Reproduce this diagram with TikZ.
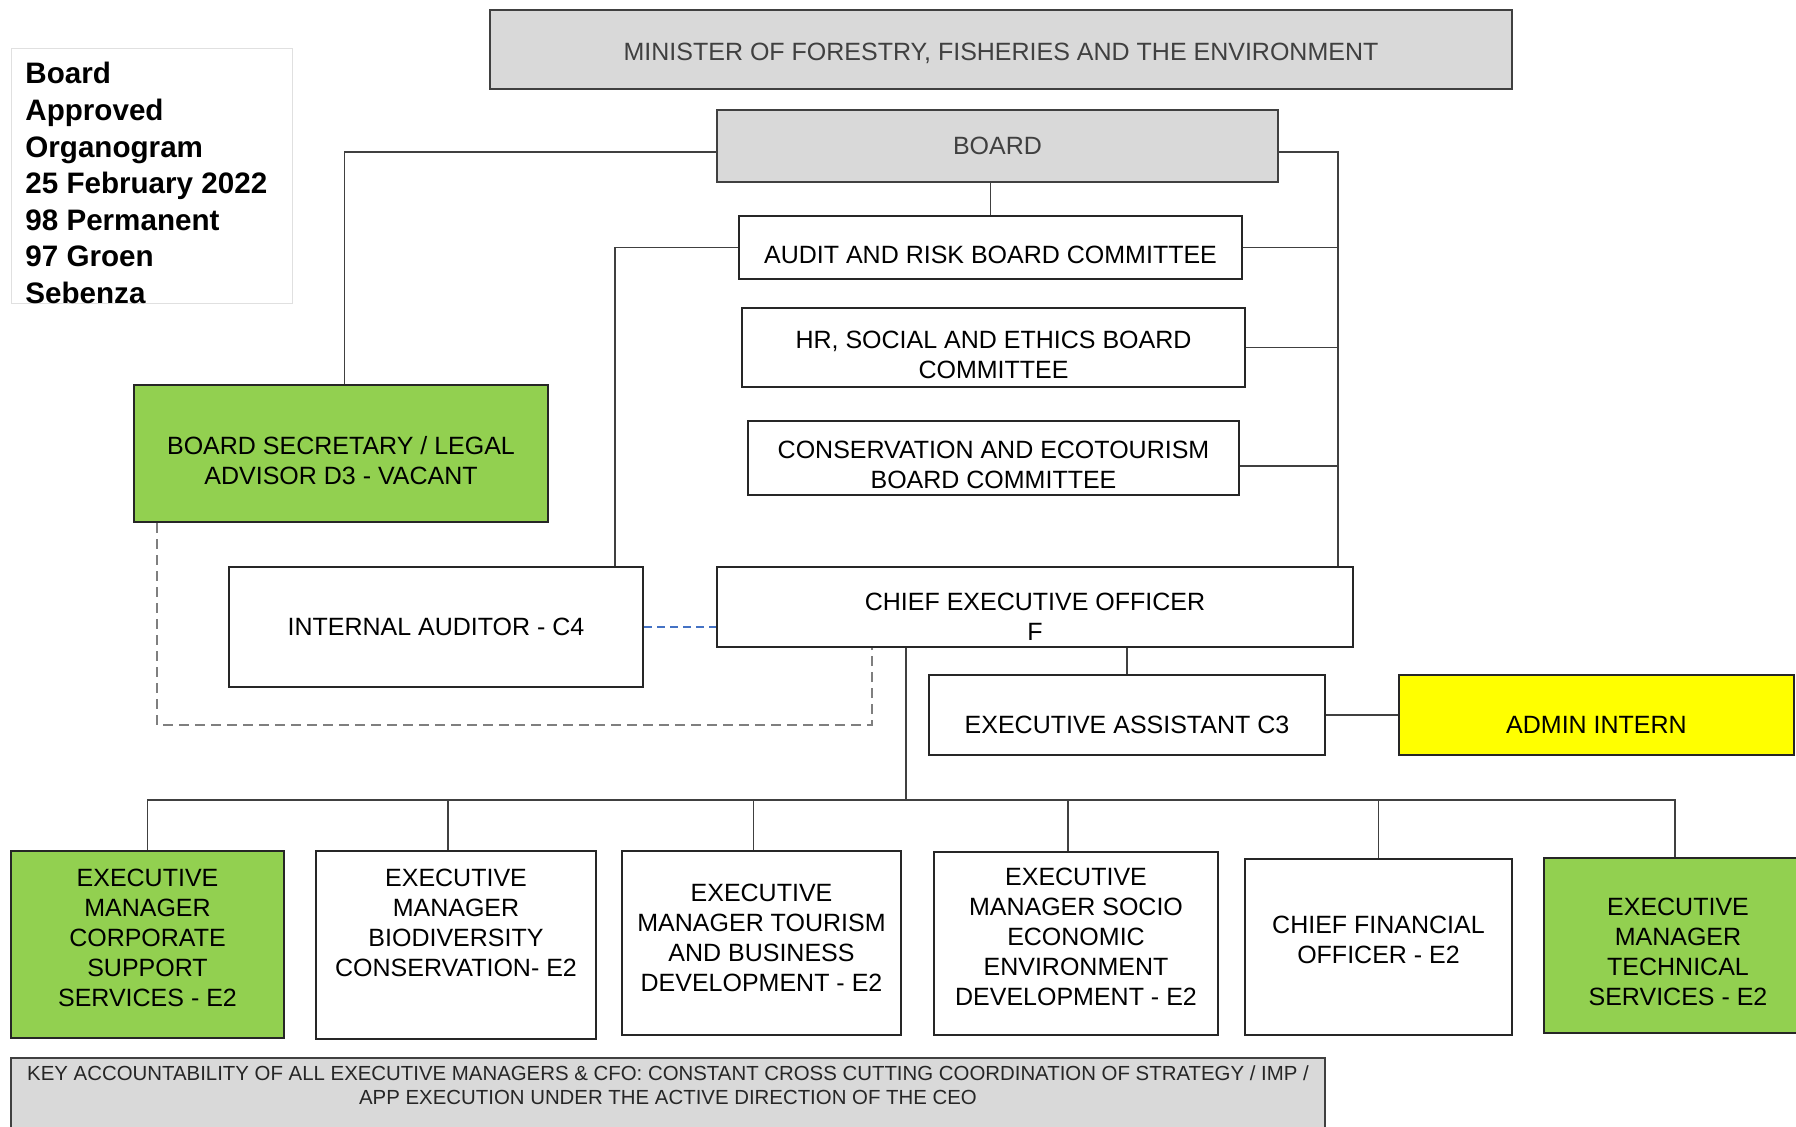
\documentclass[tikz,border=0pt]{standalone}
\usepackage{fontspec}
\setmainfont{Liberation Sans}
\usepackage{xcolor}
\usetikzlibrary{positioning,calc}
\definecolor{boxgray}{HTML}{D9D9D9}
\definecolor{boxgreen}{HTML}{92D050}
\definecolor{boxyellow}{HTML}{FFFF00}
\definecolor{linegray}{HTML}{404040}
\definecolor{dashgray}{HTML}{7F7F7F}
\definecolor{dashblue}{HTML}{4472C4}
% struts to push a box's text down (top) or up (bottom)
\newcommand\padtop[1]{\rule{0pt}{#1}}
\newcommand\padbot[1]{\rule[-#1]{0pt}{#1}}

\begin{document}
\begin{tikzpicture}[x=0.5pt,y=-0.5pt,
  box/.style={draw=black!85,line width=1pt,align=center,inner sep=2pt,font=\fontsize{12.5}{15}\selectfont},
  wbox/.style={box,fill=white},
  gbox/.style={box,draw=linegray,fill=boxgray,text=black!75},
  grnbox/.style={box,fill=boxgreen},
  ylwbox/.style={box,fill=boxyellow},
  conn/.style={draw=linegray,line width=0.75pt},
  dashg/.style={draw=dashgray,line width=1pt,dash pattern=on 5pt off 3pt},
  dashb/.style={draw=dashblue,line width=1pt,dash pattern=on 4pt off 2.5pt}]
\useasboundingbox (0,0) rectangle (1796,1126);
% legend
\draw[draw=black!12,line width=0.5pt] (11,48) rectangle (292,303);
\node[anchor=north west,align=left,inner sep=0pt,font=\fontsize{14.8}{18.3}\selectfont\bfseries] (legend) at (25,62)
  {Board\\Approved\\Organogram\\25 February 2022\\98 Permanent\\97 Groen\\Sebenza};
% board level
\node[gbox,minimum width=511pt,minimum height=39.5pt] (minister) at (1001,49.5) {\padtop{12.5pt}MINISTER OF FORESTRY, FISHERIES AND THE ENVIRONMENT};
\node[gbox,minimum width=280.5pt,minimum height=36pt] (board) at (997.5,146) {BOARD};
\node[wbox,minimum width=251.5pt,minimum height=31.5pt] (audit) at (990.5,247.5) {\padtop{16pt}AUDIT AND RISK BOARD COMMITTEE};
\node[wbox,minimum width=251.5pt,minimum height=39.5pt] (hrsoc) at (993.5,347.5) {\padtop{16pt}HR, SOCIAL AND ETHICS BOARD\\COMMITTEE};
\node[wbox,minimum width=245.5pt,minimum height=37pt] (conserv) at (993.5,458) {\padtop{16pt}CONSERVATION AND ECOTOURISM\\BOARD COMMITTEE};
\node[grnbox,minimum width=207pt,minimum height=68.5pt] (secretary) at (341,453.5) {\padtop{16pt}BOARD SECRETARY / LEGAL\\ADVISOR D3 - VACANT};
\node[wbox,minimum width=207pt,minimum height=60pt] (auditor) at (436,627) {INTERNAL AUDITOR - C4};
% office of the ceo
\node[wbox,minimum width=318pt,minimum height=40pt] (ceo) at (1035,607) {\padtop{18.3pt}CHIEF EXECUTIVE OFFICER\\F};
\node[wbox,minimum width=198pt,minimum height=40pt] (assistant) at (1127,715) {\padtop{18.3pt}EXECUTIVE ASSISTANT C3};
\node[ylwbox,minimum width=197.5pt,minimum height=40pt] (intern) at (1596.5,715) {\padtop{18.3pt}ADMIN INTERN};
% executive managers
\node[grnbox,minimum width=136.5pt,minimum height=93.5pt] (emcorp) at (147.5,944.5) {EXECUTIVE\\MANAGER\\CORPORATE\\SUPPORT\\SERVICES - E2\padbot{6.9pt}};
\node[wbox,minimum width=140pt,minimum height=94pt] (embio) at (456,945) {EXECUTIVE\\MANAGER\\BIODIVERSITY\\CONSERVATION- E2\padbot{21.8pt}};
\node[wbox,minimum width=139.5pt,minimum height=92pt] (emtour) at (761.5,943) {EXECUTIVE\\MANAGER TOURISM\\AND BUSINESS\\DEVELOPMENT - E2\padbot{5.7pt}};
\node[wbox,minimum width=142pt,minimum height=91.5pt] (emsocio) at (1076,943.5) {EXECUTIVE\\MANAGER SOCIO\\ECONOMIC\\ENVIRONMENT\\DEVELOPMENT - E2\padbot{6.9pt}};
\node[wbox,minimum width=133.5pt,minimum height=88pt] (cfo) at (1378.5,947) {CHIEF FINANCIAL\\OFFICER - E2\padbot{6.9pt}};
\node[grnbox,minimum width=134pt,minimum height=87.5pt] (emtech) at (1678,945.5) {\padtop{14.8pt}EXECUTIVE\\MANAGER\\TECHNICAL\\SERVICES - E2};
% key accountability
\draw[draw=linegray,line width=1pt,fill=boxgray] (11,1058) rectangle (1325,1160);
\node[font=\fontsize{10.2}{12}\selectfont,align=center,text=black!85] (key) at (668,1085)
  {KEY ACCOUNTABILITY OF ALL EXECUTIVE MANAGERS \& CFO: CONSTANT CROSS CUTTING COORDINATION OF STRATEGY / IMP /\\APP EXECUTION UNDER THE ACTIVE DIRECTION OF THE CEO};
% connectors
\coordinate (rbus) at ([xshift=-8pt]ceo.north east);
\coordinate (bus) at (906,800);
\draw[conn] ([yshift=-2.9pt]board.west) -| ([xshift=1.7pt]secretary.north);
\draw[conn] ([yshift=-2.9pt]board.east) -| (rbus);
\draw[conn] (board.south -| audit.north) -- (audit.north);
\draw[conn] (audit.east) -- (audit.east -| rbus);
\draw[conn] (hrsoc.east) -- (hrsoc.east -| rbus);
\draw[conn] ([yshift=-4pt]conserv.east) -- ([yshift=-4pt]conserv.east -| rbus);
\draw[conn] (audit.west) -| ([xshift=-14.5pt]auditor.north east);
\draw[dashb] (auditor.east) -- (auditor.east -| ceo.west);
\draw[dashg] ([xshift=12pt]secretary.south west) -- ++(0,202) -| ([xshift=78pt]ceo.south west);
\draw[conn] (ceo.south -| assistant.north) -- (assistant.north);
\draw[conn] (assistant) -- (intern);
\draw[conn] (ceo.south -| bus) -- (bus);
\foreach \n/\dx in {emcorp/0,embio/-4,emtour/-4,emsocio/-4,cfo/0,emtech/-1.5}
  \draw[conn] (bus) -| ([xshift=\dx pt]\n.north);
\end{tikzpicture}
\end{document}
